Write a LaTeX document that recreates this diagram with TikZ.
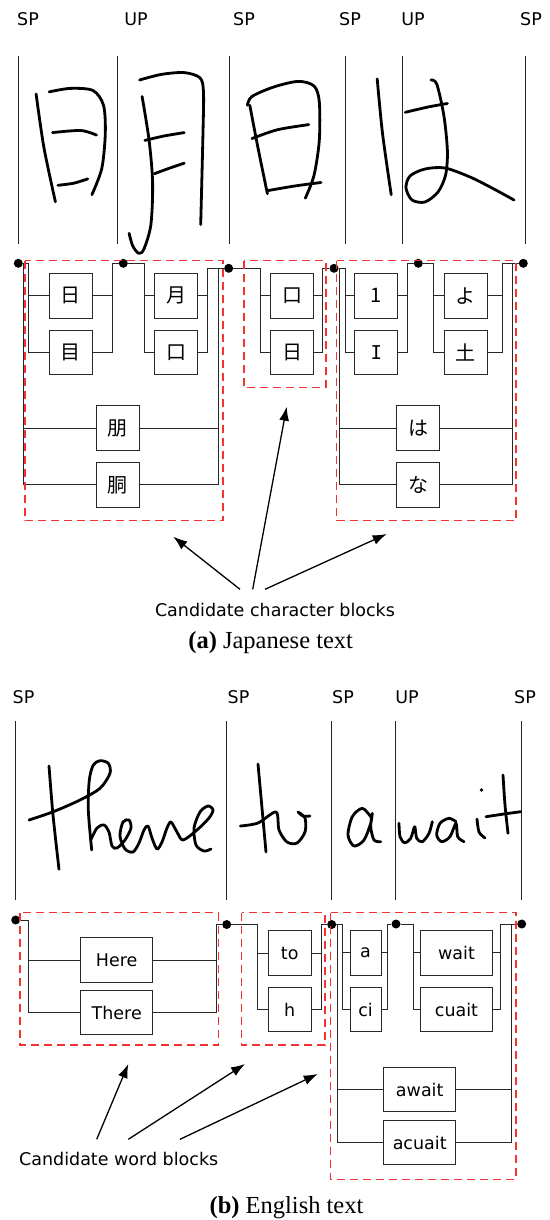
\documentclass[tikz,border=0pt]{standalone}
\usepackage{fontspec}
\setmainfont{Liberation Serif}
\setsansfont{DejaVu Sans}
\newfontfamily\jpfont{Noto Sans CJK JP}
\newfontfamily\slabfont{DejaVu Sans Mono}
\usetikzlibrary{arrows.meta}
\definecolor{blockred}{RGB}{245,50,50}
\definecolor{rail}{RGB}{40,40,40}

\begin{document}
\begin{tikzpicture}[x=1pt,y=-1pt,>={Latex[length=14pt,width=10pt]},
    every node/.style={font=\sffamily\fontsize{17.5}{20}\selectfont},
    seg/.style={line width=1pt,black!85},
    hand/.style={line width=2.8pt,line cap=round,line join=round},
    conn/.style={draw=rail,line width=1pt},
    dot/.style={circle,fill=black,inner sep=0pt,minimum size=9pt},
    cand/.style={draw=rail,line width=1pt,fill=white,inner sep=0pt,minimum height=44.5pt},
    charbox/.style={cand,minimum width=43pt,font=\jpfont\fontsize{20}{22}\selectfont},
    wordbox/.style={cand,minimum width=71.5pt},
    cblock/.style={draw=blockred,line width=1.3pt,dash pattern=on 8pt off 5pt},
    arr/.style={line width=1.3pt},
    caption/.style={anchor=base,font=\rmfamily\fontsize{24.5}{28}\selectfont}]
\useasboundingbox (0,0) rectangle (549,1220);

% ---------- (a) handwritten Japanese ----------
\node[anchor=base] (jsp1) at (28,26) {SP};
\node[anchor=base] (jup1) at (136,26) {UP};
\node[anchor=base] (jsp2) at (244,26) {SP};
\node[anchor=base] (jsp3) at (350,26) {SP};
\node[anchor=base] (jup2) at (413,26) {UP};
\node[anchor=base] (jsp4) at (531,26) {SP};
\foreach \x in {18.2,117.9,229.5,345.3,402.8,525.3}
    \draw[seg] (\x,56) -- (\x,244);

% 日
\draw[hand] plot[smooth] coordinates {(36.1,94) (43.9,147.4) (55.4,201.8)};
\draw[hand] plot[smooth] coordinates {(49.1,91.9) (70.2,88.4) (93,90.5) (103.5,105.3) (105.3,133.3) (101.8,168.4) (91.9,194.7)};
\draw[hand] plot[smooth] coordinates {(52.6,132.6) (80.7,130.5) (96.5,135.1)};
\draw[hand] plot[smooth] coordinates {(57.9,185.3) (73.7,183.2) (87.7,178.9)};
% 月
\draw[hand] plot[smooth] coordinates {(139.6,80) (161.4,74.4) (184.2,72.6) (200,77.9) (203.5,93) (202.8,140.4) (200.7,224.6)};
\draw[hand] plot[smooth] coordinates {(142.1,96.5) (149.1,140.4) (152.6,182.5) (150.9,224.6) (143.9,249.1) (138.6,253.3) (132.6,245.6) (129.1,233.3)};
\draw[hand] plot[smooth] coordinates {(144.9,140.4) (164,136) (184.2,132.6)};
\draw[hand] plot[smooth] coordinates {(154.4,173.7) (170,168) (184.2,163.2)};
% 日
\draw[hand] plot[smooth] coordinates {(249.8,105.3) (257.9,147.4) (267.4,193.7)};
\draw[hand] plot[smooth] coordinates {(247.4,105.3) (251.9,96.5) (273.7,87) (298.2,81.4) (314,86) (319.3,101.8) (319.3,140.4) (314,175.4) (305.3,198.2)};
\draw[hand] plot[smooth] coordinates {(251.9,138.6) (277.2,129.8) (308.8,124.6)};
\draw[hand] plot[smooth] coordinates {(268.4,190.5) (294.7,186) (321,182.5)};
% は
\draw[hand] plot[smooth] coordinates {(377.2,78.9) (382.5,133.3) (391.2,194.7)};
\draw[hand] plot[smooth] coordinates {(405.3,112.3) (428.1,107) (447.4,103.5)};
\draw[hand] plot[smooth] coordinates {(430.9,80) (436.8,84.2) (443.9,115.8) (447.4,150.9) (445.6,175) (438,192) (425,202) (412,200) (406,188) (410,176) (425,169) (445,168) (470,177) (492,188) (514,200)};

% ---------- (a) candidate lattice ----------
\node[dot] (jd1) at (18.3,263.3) {};
\node[dot] (jd2) at (123.3,263.3) {};
\node[dot] (jd3) at (228.7,268.3) {};
\node[dot] (jd4) at (334,268.3) {};
\node[dot] (jd5) at (418.3,263.3) {};
\node[dot] (jd6) at (523.3,263.3) {};

\node[charbox] (jhi) at (70.7,295.8) {日};
\node[charbox] (jme) at (70.7,352.5) {目};
\node[charbox] (jtsuki) at (176,295.8) {月};
\node[charbox] (jkuchi) at (176,352.5) {口};
\node[charbox] (jtomo) at (117.7,428.2) {朋};
\node[charbox] (jdou) at (117.7,484.8) {胴};
\node[charbox] (jkuchiB) at (292,295.8) {口};
\node[charbox] (jhiB) at (292,352.5) {日};
\node[charbox] (jone) at (376.3,295.8) {1};
\node[charbox,font=\slabfont\fontsize{19}{22}\selectfont] (jbar) at (376.3,352.5) {I};
\node[charbox] (jyo) at (465.5,295.8) {よ};
\node[charbox] (jtsuchi) at (465.5,352.5) {土};
\node[charbox] (jha) at (418.3,428.2) {は};
\node[charbox] (jna) at (418.3,484.8) {な};

\coordinate (jo1) at (23.3,263.3);
\coordinate (jr1) at (28.3,263.3);
\coordinate (jr2) at (112.7,263.3);
\coordinate (jr3) at (144.7,263.3);
\coordinate (jr4) at (207.7,268.3);
\coordinate (jo2) at (218.7,268.3);
\coordinate (jr5) at (260,268.3);
\coordinate (jr6) at (322.7,268.3);
\coordinate (jo3) at (339,268.3);
\coordinate (jr7) at (345,268.3);
\coordinate (jr8) at (407.7,263.3);
\coordinate (jr9) at (433.3,263.3);
\coordinate (jr10) at (502.7,263.3);
\coordinate (jo4) at (512.7,263.3);

\draw[conn] (jd1) -- (jr1);
\draw[conn] (jr2) -- (jd2) -- (jr3);
\draw[conn] (jr4) -- (jd3) -- (jr5);
\draw[conn] (jr6) -- (jd4) -- (jr7);
\draw[conn] (jr8) -- (jd5) -- (jr9);
\draw[conn] (jr10) -- (jd6);
\foreach \a/\b in {jr1/jhi,jr1/jme,jr3/jtsuki,jr3/jkuchi,jo1/jtomo,jo1/jdou,
                   jr5/jkuchiB,jr5/jhiB,jr7/jone,jr7/jbar,jr9/jyo,jr9/jtsuchi,jo3/jha,jo3/jna}
    \draw[conn] (\a) |- (\b);
\foreach \a/\b in {jhi/jr2,jme/jr2,jtsuki/jr4,jkuchi/jr4,jtomo/jo2,jdou/jo2,
                   jkuchiB/jr6,jhiB/jr6,jone/jr8,jbar/jr8,jyo/jr10,jtsuchi/jr10,jha/jo4,jna/jo4}
    \draw[conn] (\a) -| (\b);

\draw[cblock] (25,260.7) rectangle (223,520.7);
\draw[cblock] (244,260.7) rectangle (326,387.3);
\draw[cblock] (336.7,260.7) rectangle (516,520.7);

\node[anchor=base] (jnote) at (275,616.5) {Candidate character blocks};
\coordinate (jfrom1) at (240,589.3);
\coordinate (jfrom2) at (252.7,589.3);
\coordinate (jfrom3) at (265,589.3);
\coordinate (jto1) at (173.3,536.7);
\coordinate (jto2) at (286.7,406.7);
\coordinate (jto3) at (386.7,534);
\draw[->,arr] (jfrom1) -- (jto1);
\draw[->,arr] (jfrom2) -- (jto2);
\draw[->,arr] (jfrom3) -- (jto3);

\node[caption] (jcap) at (270.7,648.5) {\textbf{(a)} Japanese text};

% ---------- (b) handwritten English ----------
\node[anchor=base] (wsp1) at (23.5,703) {SP};
\node[anchor=base] (wsp2) at (238.5,703) {SP};
\node[anchor=base] (wsp3) at (343,703) {SP};
\node[anchor=base] (wup1) at (407,703) {UP};
\node[anchor=base] (wsp4) at (525,703) {SP};
\foreach \x in {15.7,226.7,331.3,395,521.3}
    \draw[seg] (\x,720.7) -- (\x,900);

% There
\draw[hand] plot[smooth] coordinates {(49,766) (53,815) (59,869.3)};
\draw[hand] plot[smooth] coordinates {(29,820) (53.3,811.7) (80,800) (100,788.3) (110,773.3) (108.3,763.3) (100,760.7) (93.3,765) (89.3,780) (88.3,810) (91.7,850)};
\draw[hand] plot[smooth] coordinates {(90.7,840) (97,828) (104,825) (109,832) (112,846) (117,848)
    (125,840) (131,828) (129,820) (123,822) (120,836) (125,849) (133,852) (139,843) (144,830) (148,826)
    (152,838) (157,849) (162,842) (167,828) (171,822) (177,832) (183,840)
    (197,830) (209,818) (213,810) (208,806) (200,812) (194,828) (196,845) (204,851) (211,849)};
% to
\draw[hand] plot[smooth] coordinates {(258,764) (262,808) (266,852)};
\draw[hand] plot[smooth] coordinates {(240.4,826) (258,823) (276,812) (279,830) (287,842) (297,843) (305,832) (305,818) (298,812) (303,816) (310,816)};
% a
\draw[hand] plot[smooth] coordinates {(370.7,816.7) (362.3,808.3) (352.3,816.7) (348,835) (354,846) (364,840) (370.7,823.3) (372.3,813.3) (370.7,826.7) (374,840) (380.7,841.7)};
% wait
\draw[hand] plot[smooth] coordinates {(399,823.3) (400,836.7) (404.7,842.7) (410.7,838.3) (414.7,826.7) (416.7,838.3) (422.3,841.7) (429,833.3) (432.3,821.7)};
\draw[hand] plot[smooth] coordinates {(456,821.7) (449,818.3) (440,823.3) (436.7,835) (441.7,841.7) (450,836.7) (456,823.3) (457.7,836.7) (464,841.7)};
\draw[hand] plot[smooth] coordinates {(477,819) (479,832) (485,838)};
\fill (481.5,790) circle (1.8pt);
\draw[hand] plot[smooth] coordinates {(503,775) (505,805) (508,833.3)};
\draw[hand] plot[smooth] coordinates {(486,816.7) (504,814) (520.7,811.7)};

% ---------- (b) candidate lattice ----------
\node[dot] (wd1) at (15.7,920) {};
\node[dot] (wd2) at (226.7,924.5) {};
\node[dot] (wd3) at (331.7,924.5) {};
\node[dot] (wd4) at (396,924) {};
\node[dot] (wd5) at (521.7,924) {};

\node[wordbox] (where) at (116.7,960) {Here};
\node[wordbox] (wthere) at (116.7,1012.7) {There};
\node[cand,minimum width=43pt] (wto) at (289.7,953) {to};
\node[cand,minimum width=43pt] (wh) at (289.7,1009.5) {h};
\node[cand,minimum width=31pt] (wa) at (365.5,952.8) {a};
\node[cand,minimum width=31pt] (wci) at (365.5,1009.5) {ci};
\node[wordbox] (wwait) at (456.5,952.8) {wait};
\node[wordbox] (wcuait) at (456.5,1009.5) {cuait};
\node[wordbox] (wawait) at (419.7,1089.7) {await};
\node[wordbox] (wacuait) at (419.7,1142.5) {acuait};

\coordinate (wr1) at (28.3,920);
\coordinate (wr2) at (216,924.5);
\coordinate (wr3) at (257.7,924.5);
\coordinate (wr4) at (321,924.5);
\coordinate (wo1) at (337.7,924.5);
\coordinate (wr5) at (342.7,924.5);
\coordinate (wr6) at (387.7,924);
\coordinate (wr7) at (413.3,924);
\coordinate (wr8) at (500,924);
\coordinate (wo2) at (511,924);

\draw[conn] (wd1) -- (wr1);
\draw[conn] (wr2) -- (wd2) -- (wr3);
\draw[conn] (wr4) -- (wd3) -- (wr5);
\draw[conn] (wr6) -- (wd4) -- (wr7);
\draw[conn] (wr8) -- (wd5);
\foreach \a/\b in {wr1/where,wr1/wthere,wr3/wto,wr3/wh,wr5/wa,wr5/wci,
                   wr7/wwait,wr7/wcuait,wo1/wawait,wo1/wacuait}
    \draw[conn] (\a) |- (\b);
\foreach \a/\b in {where/wr2,wthere/wr2,wto/wr4,wh/wr4,wa/wr6,wci/wr6,
                   wwait/wr8,wcuait/wr8,wawait/wo2,wacuait/wo2}
    \draw[conn] (\a) -| (\b);

\draw[cblock] (20,912.7) rectangle (218.3,1045);
\draw[cblock] (241.7,912.7) rectangle (325,1045);
\draw[cblock] (330.7,912.7) rectangle (516,1179.3);

\node[anchor=base] (wnote) at (118.7,1165) {Candidate word blocks};
\coordinate (wfrom1) at (96.7,1139.3);
\coordinate (wfrom2) at (128.3,1139.3);
\coordinate (wfrom3) at (180,1139.3);
\coordinate (wto1) at (128.3,1064);
\coordinate (wto2) at (245,1064);
\coordinate (wto3) at (317.7,1074);
\draw[->,arr] (wfrom1) -- (wto1);
\draw[->,arr] (wfrom2) -- (wto2);
\draw[->,arr] (wfrom3) -- (wto3);

\node[caption] (wcap) at (286.5,1213.5) {\textbf{(b)} English text};
\end{tikzpicture}
\end{document}
